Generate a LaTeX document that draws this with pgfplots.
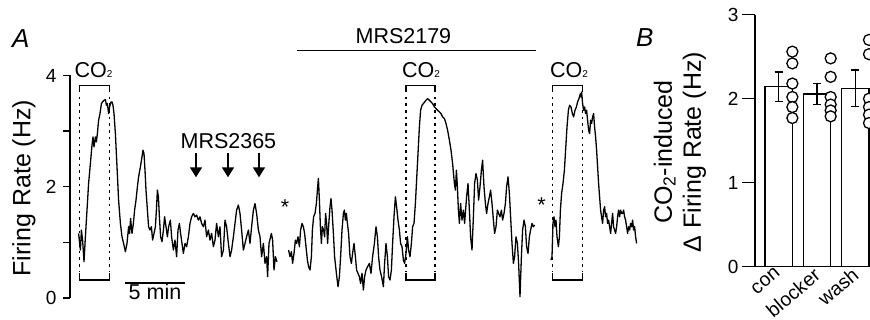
\documentclass[border=0pt]{standalone}
\usepackage{pgfplots}
\pgfplotsset{compat=1.18}
\usepackage{fontspec}
\setmainfont{Liberation Sans}
\usetikzlibrary{arrows.meta}
\newcommand{\annot}{\fontsize{21.5}{24}\selectfont}
\newcommand{\labfont}{\fontsize{25}{29}\selectfont}
\newcommand{\tickfont}{\fontsize{19}{21}\selectfont}
\newcommand{\catfont}{\fontsize{19.5}{21}\selectfont}
\newcommand{\panfont}{\fontsize{26}{28}\selectfont\itshape}
\newcommand{\COtwo}{CO{\fontsize{10}{10}\selectfont 2}}
\tikzset{brk/.style={line width=1.4pt}, dotl/.style={line width=1.6pt, dash pattern=on 2.6pt off 4.1pt},
  arr/.style={line width=1.5pt, -{Triangle[length=10pt,width=12pt]}}}
\begin{document}
\begin{tikzpicture}
\useasboundingbox (0,0) rectangle (870pt,320pt);
\node[anchor=base west, font=\panfont, inner sep=0pt] at (12pt,272pt) {A};
\node[anchor=base west, font=\panfont, inner sep=0pt] at (636pt,273pt) {B};
% ---------------- Panel A ----------------
\begin{axis}[
  at={(70pt,22pt)}, anchor=south west, scale only axis,
  width=570pt, height=222.5pt,
  xmin=-40, xmax=2810, ymin=0, ymax=4,
  axis x line=none, axis y line*=left,
  axis line style={line width=1.4pt, -},
  ytick={0,1,2,3,4}, yticklabels={0,,2,,4},
  tick align=outside, major tick length=7pt,
  every tick/.style={black, line width=1.4pt},
  yticklabel style={font=\tickfont, xshift=-3pt},
  /pgf/number format/assume math mode=true,
  ylabel={Firing Rate (Hz)},
  ylabel style={font=\labfont, at={(axis description cs:-0.0807,0.494)}, anchor=center},
  clip=false,
]
\addplot[black, line width=1.3pt, line join=round, no marks] table[x=t, y=hz] {
t hz
3 1.161
12 0.862
17 1.221
23 1.041
30 0.652
37 1.101
45 1.580
53 2.059
62 2.418
70 2.747
75 2.896
80 2.717
87 2.896
92 2.807
97 2.956
103 3.196
110 3.315
117 3.495
123 3.525
130 3.555
137 3.567
142 3.465
147 3.495
153 3.315
158 3.435
165 3.525
170 3.525
175 3.465
180 3.315
187 2.956
195 2.358
203 1.759
212 1.341
220 1.101
228 0.981
237 0.832
245 0.981
253 1.281
258 1.161
263 1.430
270 1.161
277 1.341
283 1.580
290 1.759
297 1.999
303 2.178
312 2.358
320 2.537
325 2.657
330 2.597
335 2.298
340 1.939
347 1.580
353 1.281
360 1.221
367 1.281
373 1.041
380 1.161
387 1.281
392 1.580
397 1.939
402 1.819
407 1.460
413 1.101
420 1.011
427 1.221
433 1.460
440 1.281
447 1.101
453 1.281
462 1.400
468 1.101
477 0.862
485 1.041
493 0.742
500 1.221
507 1.341
513 1.161
520 0.981
527 0.802
535 0.981
543 0.922
552 1.101
560 1.341
568 1.460
577 1.520
585 1.460
593 1.490
602 1.400
610 1.460
618 1.341
627 1.281
635 1.400
643 1.101
652 1.221
660 1.041
668 1.161
677 0.922
685 1.041
693 1.341
702 1.101
710 1.281
718 0.742
727 0.862
735 1.400
743 1.281
752 0.981
760 0.742
768 0.862
777 1.101
785 1.341
793 1.580
802 1.670
810 1.520
818 1.221
827 0.862
835 0.981
843 1.101
852 1.221
860 0.981
868 1.281
877 1.580
885 1.699
893 1.520
902 1.221
910 1.101
918 0.742
927 0.981
935 0.622
943 0.742
948 0.383
955 0.981
967 1.161
973 1.041
980 0.503
987 0.742
995 0.652
};
\addplot[black, line width=1.3pt, line join=round, no marks] table[x=t, y=hz] {
t hz
1053 0.862
1060 0.742
1067 0.832
1073 0.622
1080 0.802
1087 1.041
1093 0.981
1100 1.101
1107 0.922
1113 1.221
1120 1.341
1127 1.281
1133 1.161
1140 0.922
1147 0.682
1153 0.563
1160 0.503
1167 0.742
1172 1.221
1178 1.460
1185 1.520
1192 1.699
1197 1.939
1202 2.148
1207 1.759
1212 1.281
1217 0.981
1222 1.281
1228 1.221
1233 1.101
1238 1.520
1243 1.341
1248 0.981
1253 1.281
1260 1.640
1265 1.789
1270 1.580
1277 1.161
1283 0.742
1292 0.443
1300 0.203
1307 0.383
1313 0.742
1320 1.221
1327 1.520
1332 1.580
1337 1.400
1342 1.520
1347 1.341
1353 1.161
1360 0.742
1367 0.622
1373 0.802
1380 0.981
1387 0.742
1393 0.503
1400 0.443
1407 0.383
1413 0.263
1420 0.443
1427 0.144
1433 0.383
1440 0.503
1448 0.563
1457 0.622
1465 0.443
1473 0.742
1482 0.981
1490 1.281
1497 1.101
1503 0.742
1510 0.503
1518 0.383
1527 0.203
1533 0.622
1540 0.981
1547 0.742
1553 0.383
1560 0.323
1567 0.503
1573 0.981
1580 1.460
1587 1.819
1593 1.640
1600 1.400
1607 1.221
1613 0.981
1620 0.922
1627 0.682
1633 0.622
1640 0.802
1647 1.101
1653 0.862
1660 0.742
1667 0.981
1673 1.281
1680 1.341
1687 1.699
1693 2.118
1700 2.597
1707 3.076
1713 3.375
1720 3.465
1727 3.495
1733 3.525
1740 3.555
1748 3.585
1757 3.555
1765 3.525
1773 3.495
1782 3.435
1790 3.405
1798 3.375
1807 3.345
1815 3.315
1823 3.256
1832 3.226
1840 3.136
1848 3.016
1857 2.837
1865 2.657
1873 2.418
1882 2.059
1887 1.939
1892 2.298
1897 1.999
1902 1.580
1907 1.341
1913 1.699
1920 1.400
1927 1.580
1933 1.341
1943 1.819
1950 2.059
1957 1.580
1963 1.101
1970 0.862
1977 1.460
1983 2.059
1990 2.238
1997 2.118
2003 1.759
2010 1.999
2017 2.298
2023 2.478
2030 1.999
2037 1.699
2043 1.520
2050 1.699
2057 1.819
2063 1.939
2070 1.699
2077 1.400
2083 1.161
2090 1.281
2097 1.580
2103 1.520
2110 1.460
2117 1.580
2123 1.400
2130 1.520
2137 1.699
2143 1.999
2150 2.178
2157 1.879
2163 1.460
2170 0.981
2177 0.622
2183 0.742
2190 1.101
2197 0.981
2203 0.622
2210 0.024
2217 0.742
2223 1.221
2230 1.400
2237 1.281
2243 0.922
2250 0.802
2257 1.101
2263 1.221
2270 1.341
2277 1.281
2283 1.311
};
\addplot[black, line width=1.3pt, line join=round, no marks] table[x=t, y=hz] {
t hz
2365 0.682
2370 0.742
2375 1.341
2380 1.460
2385 1.281
2390 1.400
2395 1.101
2402 0.922
2407 1.101
2412 1.580
2418 1.879
2425 2.059
2432 2.298
2438 2.657
2445 3.076
2452 3.375
2458 3.465
2465 3.435
2472 3.315
2478 3.256
2485 3.375
2492 3.435
2498 3.525
2505 3.585
2512 3.674
2515 3.615
2518 3.704
2523 3.495
2528 3.375
2533 3.435
2538 3.315
2543 3.375
2548 3.196
2553 3.016
2558 2.956
2563 3.196
2568 3.136
2573 3.256
2578 3.315
2583 3.076
2588 2.896
2593 2.657
2598 2.358
2603 2.059
2608 1.819
2613 1.580
2618 1.460
2623 1.341
2628 1.580
2633 1.640
2638 1.460
2643 1.520
2648 1.341
2653 1.400
2658 1.281
2663 1.161
2668 1.341
2673 1.520
2678 1.281
2683 1.221
2688 1.161
2693 1.281
2698 1.460
2703 1.580
2708 1.460
2713 1.580
2718 1.520
2723 1.520
2728 1.580
2733 1.460
2738 1.400
2743 1.281
2748 1.161
2753 1.281
2758 1.221
2763 1.341
2768 1.281
2773 1.400
2778 1.221
2783 1.281
2788 1.101
2793 0.981
};
% CO2 brackets
\draw[brk] (axis cs:7,3.70) -- (axis cs:7,3.824) -- (axis cs:157,3.824) -- (axis cs:157,3.70);
\draw[brk] (axis cs:7,0.449) -- (axis cs:7,0.323) -- (axis cs:157,0.323) -- (axis cs:157,0.449);
\draw[dotl] (axis cs:7,3.62) -- (axis cs:7,0.47);
\draw[dotl] (axis cs:157,3.62) -- (axis cs:157,0.47);
\draw[brk] (axis cs:1640,3.70) -- (axis cs:1640,3.824) -- (axis cs:1785,3.824) -- (axis cs:1785,3.70);
\draw[brk] (axis cs:1640,0.449) -- (axis cs:1640,0.323) -- (axis cs:1785,0.323) -- (axis cs:1785,0.449);
\draw[dotl] (axis cs:1640,3.62) -- (axis cs:1640,0.47);
\draw[dotl] (axis cs:1785,3.62) -- (axis cs:1785,0.47);
\draw[brk] (axis cs:2373,3.70) -- (axis cs:2373,3.824) -- (axis cs:2522,3.824) -- (axis cs:2522,3.70);
\draw[brk] (axis cs:2373,0.449) -- (axis cs:2373,0.323) -- (axis cs:2522,0.323) -- (axis cs:2522,0.449);
\draw[dotl] (axis cs:2373,3.62) -- (axis cs:2373,0.47);
\draw[dotl] (axis cs:2522,3.62) -- (axis cs:2522,0.47);
\node[anchor=base, font=\annot] at (axis cs:78,3.97) {\COtwo};
\node[anchor=base, font=\annot] at (axis cs:1715,3.97) {\COtwo};
\node[anchor=base, font=\annot] at (axis cs:2455,3.97) {\COtwo};
% MRS2179
\draw[brk] (axis cs:1095,4.45) -- (axis cs:2290,4.45);
\node[anchor=base, font=\annot] at (axis cs:1627,4.58) {MRS2179};
% MRS2365 arrows
\node[anchor=base, font=\annot] at (axis cs:752,2.69) {MRS2365};
\draw[arr] (axis cs:590,2.60) -- (axis cs:590,2.17);
\draw[arr] (axis cs:750,2.60) -- (axis cs:750,2.17);
\draw[arr] (axis cs:905,2.60) -- (axis cs:905,2.17);
% asterisks
\node[anchor=base, font=\annot, inner sep=0pt] at (axis cs:1035,1.50) {*};
\node[anchor=base, font=\annot, inner sep=0pt] at (axis cs:2318,1.54) {*};
% scale bar
\draw[brk] (axis cs:235,0.27) -- (axis cs:535,0.27);
\node[anchor=base, font=\annot, inner sep=0pt] at (axis cs:385,-0.036) {5 min};
\end{axis}
% ---------------- Panel B ----------------
\begin{axis}[
  at={(755pt,53.3pt)}, anchor=south west, scale only axis,
  width=119.5pt, height=252pt,
  xmin=0.381, xmax=3.5, ymin=0, ymax=3,
  axis x line*=bottom, axis y line*=left,
  axis line style={line width=1.4pt, -},
  ytick={0,1,2,3}, xtick={1,2,3}, xticklabels={con,blocker,wash},
  x tick style={draw=none},
  tick align=outside, major tick length=13pt,
  every tick/.style={black, line width=1.4pt},
  yticklabel style={font=\tickfont},
  xticklabel style={rotate=40, anchor=north east, font=\catfont, inner sep=0pt, xshift=5pt, yshift=13pt},
  /pgf/number format/assume math mode=true,
  ylabel={CO\textsubscript{2}-induced\\Δ Firing Rate (Hz)},
  ylabel style={font=\labfont, align=center, at={(axis description cs:-0.628,0.455)}, anchor=center},
  clip=false,
]
\addplot[ybar, bar width=27.3pt, fill=white, draw=black, line width=1.3pt,
  error bars/.cd, y dir=both, y explicit,
  error bar style={line width=1.3pt},
  error mark options={rotate=90, mark size=4pt, line width=1.3pt}]
  coordinates {(1,2.143) +- (0,0.175) (2,2.056) +- (0,0.125) (3,2.123) +- (0,0.22)};
\addplot[only marks, mark=*, mark size=5.5pt, mark options={fill=white, draw=black, line width=1.3pt}]
  coordinates {(1.356,2.56) (1.356,2.42) (1.356,2.18) (1.356,2.02) (1.356,1.90) (1.356,1.77)
               (2.356,2.48) (2.356,2.26) (2.356,2.02) (2.356,1.93) (2.356,1.86) (2.356,1.79)
               (3.356,2.70) (3.356,2.53) (3.356,2.00) (3.356,1.90) (3.356,1.81) (3.356,1.71)};
\end{axis}
\end{tikzpicture}
\end{document}
